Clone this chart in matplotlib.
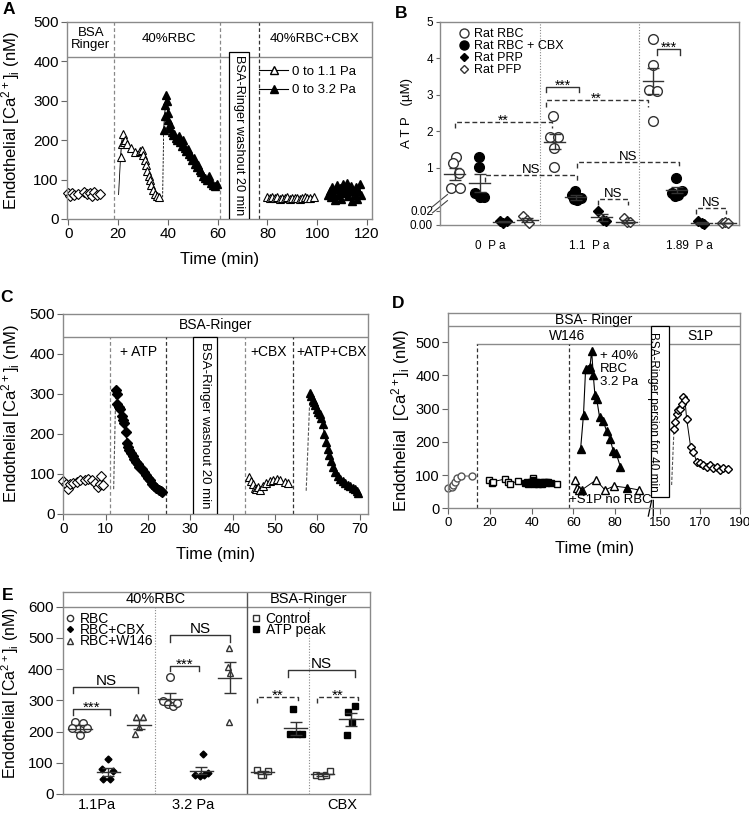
import numpy as np
import matplotlib
matplotlib.use('Agg')
import matplotlib.pyplot as plt
from matplotlib.lines import Line2D
from matplotlib.patches import Rectangle
import matplotlib.transforms as mtrans

plt.rcParams['font.family'] = ['Liberation Sans', 'DejaVu Sans']
plt.rcParams['mathtext.default'] = 'regular'

GREY = '#8a8a8a'
CA_LABEL = 'Endothelial [Ca$^{2+}$]$_i$ (nM)'

# ---------------- A: [Ca2+]i time course, 1.1 / 3.2 Pa
a_base_t = [-0.3, 0.6, 1.6, 2.4, 4.0, 6.2, 7.4, 8.6, 9.6, 10.4, 11.6, 12.8]
a_base_v = [65, 58, 66, 62, 64, 69, 63, 67, 58, 68, 62, 64]
# first point of each trace = start of the thin connector (no marker)
a_low_t = [20.2, 21.0, 21.4, 21.8, 22.3, 22.9, 23.6, 25.0, 26.8, 28.8, 29.6, 30.2, 30.8,
           31.3, 31.8, 32.3, 32.8, 33.4, 34.0, 34.7, 35.5, 36.5]
a_low_v = [62, 158, 190, 216, 196, 200, 190, 180, 170, 172, 175, 162, 150,
           138, 122, 110, 98, 86, 74, 64, 58, 55]
a_high_t = [37.9, 38.3, 38.7, 39.0, 39.3, 39.6, 39.9, 40.2, 40.6, 41.0, 41.5, 42.0, 42.6,
            43.2, 43.8, 44.4, 45.0, 45.6, 46.2, 46.8, 47.4, 48.0, 48.6, 49.2, 49.8, 50.4,
            51.0, 51.6, 52.2, 52.8, 53.4, 54.0, 54.8, 55.6, 56.4, 57.2, 58.0, 58.8, 59.6]
a_high_v = [55, 226, 262, 290, 315, 300, 270, 250, 232, 240, 220, 212, 215,
            205, 200, 210, 195, 185, 200, 180, 172, 178, 165, 160, 150, 155,
            140, 132, 138, 125, 118, 110, 105, 100, 108, 92, 86, 84, 90]
a_low_cbx_t = [80, 81, 82, 83, 84, 85, 86, 87, 88, 89, 90, 91, 92, 93, 94, 95, 96, 97, 98.5]
a_low_cbx_v = [56, 52, 57, 53, 55, 51, 54, 52, 56, 50, 53, 52, 54, 51, 53, 55, 52, 54, 57]
a_high_cbx_t = [104.5, 105, 105.5, 106, 106.5, 107, 107.5, 108, 108.5, 109, 109.5, 110,
                110.5, 111, 111.5, 112, 112.5, 113, 113.5, 114, 114.5, 115, 115.5, 116,
                116.5, 117, 117.5]
a_high_cbx_v = [60, 72, 55, 80, 65, 48, 75, 85, 62, 78, 50, 70, 88, 66, 80, 92, 58, 75,
                84, 45, 70, 60, 80, 50, 72, 88, 62]
a_legend = ['0 to 1.1 Pa', '0 to 3.2 Pa']
a_sections = ['BSA\nRinger', '40%RBC', '40%RBC+CBX']

# ---------------- B: ATP release
b_groups = ['0  P a', '1.1  P a', '1.89  P a']
b_series = ['Rat RBC', 'Rat RBC + CBX', 'Rat PRP', 'Rat PFP']
b_rbc_x = [0.63, 0.54, 0.78, 0.44, 0.80, 4.55, 4.42, 4.75, 4.59, 4.59, 8.54, 8.54, 8.37, 8.70, 8.54]
b_rbc_y = [1.29, 1.13, 0.88, 0.54, 0.54, 2.42, 1.86, 1.86, 1.54, 1.04, 4.53, 3.82, 3.15, 3.10, 2.30]
b_cbx_x = [1.57, 1.57, 1.41, 1.61, 1.77, 5.42, 5.29, 5.49, 5.65, 5.37, 9.48, 9.31, 9.57, 9.71, 9.44]
b_cbx_y = [1.31, 1.02, 0.42, 0.35, 0.35, 0.48, 0.38, 0.27, 0.31, 0.29, 0.78, 0.44, 0.38, 0.47, 0.36]
b_prp_x = [2.41, 2.54, 2.68, 6.36, 6.53, 6.67, 10.37, 10.51, 10.60]
b_prp_y = [0.005, 0.003, 0.005, 0.0204, 0.007, 0.006, 0.006, 0.0024, 0.0014]
b_pfp_x = [3.35, 3.48, 3.59, 7.39, 7.50, 7.63, 11.31, 11.45, 11.54]
b_pfp_y = [0.013, 0.007, 0.003, 0.0095, 0.0047, 0.0047, 0.003, 0.0047, 0.003]
b_mean_x = [[0.6, 4.6, 8.55], [1.6, 5.45, 9.5], [2.55, 6.5, 10.5], [3.5, 7.5, 11.45]]
b_mean = [[0.86, 1.72, 3.38], [0.66, 0.33, 0.50], [0.0045, 0.011, 0.003], [0.007, 0.0047, 0.003]]
b_sem = [[0.13, 0.21, 0.35], [0.20, 0.05, 0.07], [0.0005, 0.005, 0.001], [0.003, 0.002, 0.0005]]
# brackets: x1, x2, y, leg bottom, text, dashed
b_brackets = [(0.6, 4.48, 2.27, 2.09, '**', True),
              (4.24, 8.34, 2.86, 2.68, '**', True),
              (4.24, 5.6, 3.21, 3.07, '***', False),
              (8.7, 9.64, 4.26, 4.10, '***', False),
              (1.8, 5.49, 0.84, 0.69, 'NS', True),
              (5.49, 9.6, 1.17, 0.99, 'NS', True),
              (6.35, 7.55, 0.29, 0.157, 'NS', True),
              (10.28, 11.49, 0.08, 0.0157, 'NS', True)]
b_yticks = [0, 0.02, 1, 2, 3, 4, 5]
b_yticklabels = ['0.00', '0.02', '1', '2', '3', '4', '5']

# ---------------- C: ATP / CBX
c_base_t = [0, 0.7, 1.0, 1.6, 2.4, 3.2, 3.9, 5.1, 5.9, 6.7, 7.4, 8.2, 8.6, 9.0, 9.4]
c_base_v = [82, 75, 62, 75, 77, 80, 86, 86, 88, 84, 78, 68, 74, 94, 72]
c_atp_t = [11.9, 12.4, 12.6, 12.8, 13.1, 13.4, 13.8, 14.1, 14.4, 14.8, 15.0, 15.3, 15.6,
           16.0, 16.4, 16.8, 17.2, 17.6, 18.0, 18.5, 19.0, 19.5, 20.0, 20.5, 21.0, 21.5,
           22.0, 22.5, 23.0, 23.4]
c_atp_v = [62, 310, 300, 276, 268, 262, 245, 236, 228, 205, 178, 168, 160, 152, 145, 138,
           130, 124, 118, 112, 104, 97, 90, 84, 76, 70, 64, 60, 57, 56]
c_cbx_t = [44.0, 44.4, 44.8, 45.2, 45.6, 46.0, 46.4, 47.2, 48.0, 48.8, 49.6, 50.4, 51.2, 52.3, 53.1]
c_cbx_v = [92, 82, 74, 66, 62, 68, 60, 70, 78, 82, 86, 88, 84, 80, 78]
c_atpcbx_t = [57.4, 58.3, 58.6, 58.9, 59.2, 59.5, 59.9, 60.2, 60.6, 60.9, 61.3, 61.7, 62.1,
              62.5, 62.9, 63.3, 63.8, 64.3, 64.8, 65.4, 66.0, 66.6, 67.2, 67.8, 68.4,
              68.9, 69.3, 69.7]
c_atpcbx_v = [58, 302, 295, 285, 280, 272, 262, 256, 250, 240, 225, 200, 180, 162, 148,
              132, 118, 106, 96, 88, 82, 77, 73, 70, 66, 62, 57, 53]
c_sections = ['+ ATP', '+CBX', '+ATP+CBX']

# ---------------- D: W146 / S1P
d_base_t = [0, 1.6, 2.4, 3.2, 4.3, 5.9, 11.2]
d_base_v = [62, 64, 70, 80, 90, 97, 97]
d_sq_open_t = [19.7, 20.8, 21.4, 27.2, 28.5, 29.6, 33.6, 38.0, 40.8, 44.0, 47.0, 52.0]
d_sq_open_v = [86, 76, 80, 88, 80, 74, 82, 78, 92, 76, 78, 72]
d_sq_fill_t = [37, 38.5, 39.5, 40.5, 41, 42, 43, 44, 45, 46, 47, 48, 49.5]
d_sq_fill_v = [76, 74, 80, 84, 72, 78, 72, 79, 74, 78, 75, 79, 77]
d_rbc_t = [63.5, 64.9, 65.9, 67.0, 68.0, 68.8, 69.6, 70.4, 71.2, 72.6, 74.4, 76.0, 77.6, 79.2, 80.6, 82.6]
d_rbc_v = [178, 282, 418, 420, 425, 475, 400, 340, 330, 275, 262, 232, 210, 172, 165, 125]
d_norbc_t = [60.8, 61.6, 62.9, 64.0, 70.9, 75.2, 79.5, 85.6, 91.7]
d_norbc_v = [85, 62, 55, 55, 85, 55, 67, 62, 55]
d_norbc_fill_t = [64.2, 85.6]
d_norbc_fill_v = [52, 60]
d_s1p_t = [155.8, 157.0, 157.5, 158.3, 159.2, 160.0, 160.8, 161.7, 162.5, 163.3, 165.3, 166.7,
           168.3, 170.0, 171.7, 173.3, 175.0, 176.7, 178.3, 180.0, 181.7, 184.2]
d_s1p_v = [70, 240, 260, 285, 295, 300, 315, 335, 325, 270, 185, 170,
           140, 135, 130, 125, 130, 120, 125, 115, 120, 118]
d_xticks = [0, 20, 40, 60, 80, 150, 170, 190]

# ---------------- E: summary
e_xlabels = ['1.1Pa', '3.2 Pa', 'CBX']
e_xlabel_pos = [1.09, 4.23, 9.08]
e_rbc_x = [0.38, 0.65, 0.27, 0.78, 0.54, 3.48, 3.26, 3.43, 3.59, 3.72]
e_rbc_y = [229, 226, 210, 210, 189, 375, 298, 287, 282, 290]
e_cbx_x = [1.47, 1.25, 1.63, 1.31, 1.52, 4.54, 4.30, 4.45, 4.60, 4.72]
e_cbx_y = [113, 80, 75, 48, 47, 128, 62, 58, 60, 66]
e_w146_x = [2.37, 2.61, 2.48, 2.34, 5.41, 5.38, 5.44, 5.41]
e_w146_y = [246, 246, 214, 191, 469, 408, 387, 232]
e_ctrl_x = [6.30, 6.52, 6.68, 6.43, 8.25, 8.40, 8.55, 8.68]
e_ctrl_y = [77, 61, 75, 61, 61, 56, 61, 75]
e_peak_x = [7.50, 7.39, 7.61, 7.77, 9.51, 9.29, 9.40, 9.24]
e_peak_y = [271, 192, 192, 192, 282, 264, 229, 189]
e_mean_x = [0.54, 1.47, 2.47, 3.48, 4.50, 5.42, 6.50, 7.58, 8.45, 9.38]
e_mean = [209, 69, 222, 304, 75, 373, 69, 211, 63, 239]
e_sem = [12, 13, 14, 18, 12, 50, 5, 21, 4, 22]
e_brackets = [(0.33, 2.45, 342, 322, 'NS', False),
              (0.33, 1.52, 271, 253, '***', False),
              (3.48, 5.43, 509, 488, 'NS', False),
              (3.48, 4.43, 410, 394, '***', False),
              (6.30, 7.66, 310, 290, '**', True),
              (8.28, 9.62, 310, 290, '**', True),
              (7.34, 9.51, 397, 376, 'NS', False)]


def style_axes(ax, fs=11):
    for s in ax.spines.values():
        s.set_color(GREY)
        s.set_linewidth(1.0)
    ax.tick_params(direction='out', length=4, width=0.8, color='#666666',
                   labelsize=fs, pad=2)


def bracket(ax, x1, x2, y, y_leg, text, dashed, fs=11):
    ls = (0, (3.5, 2)) if dashed else '-'
    ax.plot([x1, x1, x2, x2], [y_leg, y, y, y_leg], color='#333333', lw=1.0, ls=ls)
    off = -2 if '*' in text else 1.5
    ax.annotate(text, ((x1 + x2) / 2, y), xytext=(0, off), textcoords='offset points',
                ha='center', va='baseline', fontsize=fs)


def vbox(ax, x0, x1, y0, y1, text, fs):
    ax.add_patch(Rectangle((x0, y0), x1 - x0, y1 - y0, fc='white', ec='black', lw=0.9, zorder=5))
    ax.text((x0 + x1) / 2, (y0 + y1) / 2, text, rotation=-90, ha='center', va='center',
            fontsize=fs, zorder=6)


def panel_a(fig):
    ax = fig.add_axes([0.0895, 0.7310, 0.4072, 0.2420])
    style_axes(ax)
    ax.set_xlim(-0.5, 122)
    ax.set_ylim(0, 500)
    ax.set_xticks(range(0, 121, 20))
    ax.set_yticks(range(0, 501, 100))
    ax.axhline(410, color=GREY, lw=1.0)
    for x, c in zip([18.3, 61.0, 76.6], ['#888888', '#888888', '#333333']):
        ax.axvline(x, color=c, ls=(0, (3, 2)), lw=0.9)
    vbox(ax, 64.7, 72.6, 0, 425, 'BSA-Ringer washout 20 min', 9.2)
    for x, s in zip([9.0, 40.5, 99.0], a_sections):
        ax.text(x, 457, s, ha='center', va='center', fontsize=9.5, linespacing=1.05)

    ax.plot(a_base_t, a_base_v, '-', color='k', lw=0.7, marker='D', ms=5.5, mfc='white',
            mec='k', mew=0.8, clip_on=False)
    ax.plot(a_low_t[:2], a_low_v[:2], '-', color='k', lw=0.6)
    ax.plot(a_low_t[1:], a_low_v[1:], '-', color='k', lw=0.7, marker='^', ms=6, mfc='white', mec='k', mew=0.8)
    ax.plot(a_high_t[:2], a_high_v[:2], color='k', lw=0.6, ls=(0, (3, 1.5)))
    ax.plot(a_high_t[1:], a_high_v[1:], '-', color='k', lw=0.7, marker='^', ms=6, mfc='k', mec='k')
    ax.plot(a_low_cbx_t, a_low_cbx_v, '-', color='k', lw=0.7, marker='^', ms=6, mfc='white', mec='k', mew=0.8)
    ax.plot(a_high_cbx_t, a_high_cbx_v, '-', color='k', lw=0.7, marker='^', ms=6, mfc='k', mec='k')

    handles = [Line2D([], [], color='k', lw=0.8, marker='^', ms=6, mfc='white', mec='k'),
               Line2D([], [], color='k', lw=0.8, marker='^', ms=6, mfc='k', mec='k')]
    ax.legend(handles, a_legend, loc='upper left', bbox_to_anchor=(0.63, 0.78), frameon=False,
              fontsize=9.5, handlelength=2.2, handletextpad=0.3, labelspacing=0.5,
              borderaxespad=0, borderpad=0)
    ax.set_ylabel(CA_LABEL, fontsize=12)
    ax.yaxis.set_label_coords(-0.148, 0.5)
    ax.set_xlabel('Time (min)', fontsize=12)
    ax.xaxis.set_label_coords(0.5, -0.17)


B_KY = [0, 0.02, 1, 5]
B_KP = [0, 14, 57, 203]


def b_fwd(y):
    return np.interp(np.asarray(y, dtype=float), B_KY, B_KP)


def b_inv(p):
    return np.interp(np.asarray(p, dtype=float), B_KP, B_KY)


def panel_b(fig):
    ax = fig.add_axes([0.5874, 0.7236, 0.3992, 0.2494])
    style_axes(ax, fs=8.5)
    ax.set_yscale('function', functions=(b_fwd, b_inv))
    ax.set_xlim(0, 12)
    ax.set_ylim(0, 5)
    ax.set_yticks(b_yticks)
    ax.set_yticklabels(b_yticklabels)
    ax.set_xticks([2, 6, 10])
    ax.set_xticklabels(b_groups)
    ax.tick_params(axis='x', length=0, pad=11)
    ax.tick_params(axis='y', length=3)
    for x in [4, 8]:
        ax.axvline(x, color='#888888', ls=(0, (1, 1.5)), lw=0.8)

    ax.plot(b_rbc_x, b_rbc_y, 'o', ms=7, mfc='white', mec='#333333', mew=1.0, ls='none', zorder=3)
    ax.plot(b_cbx_x, b_cbx_y, 'o', ms=7, mfc='k', mec='k', ls='none', zorder=3)
    ax.plot(b_prp_x, b_prp_y, 'D', ms=5.5, mfc='k', mec='k', ls='none', zorder=3, clip_on=False)
    ax.plot(b_pfp_x, b_pfp_y, 'D', ms=5.5, mfc='white', mec='#333333', ls='none', zorder=3, clip_on=False)
    for xs, ms_, ss in zip(b_mean_x, b_mean, b_sem):
        for x, m, s in zip(xs, ms_, ss):
            ax.plot([x - 0.42, x + 0.42], [m, m], color='#333333', lw=1.0, zorder=4)
            ax.errorbar(x, m, yerr=s, fmt='none', ecolor='#333333', elinewidth=1.0,
                        capsize=4, capthick=1.0, zorder=4)
    for x1, x2, y, yl, t, d in b_brackets:
        bracket(ax, x1, x2, y, yl, t, d, fs=10 if '*' in t else 9.5)

    handles = [Line2D([], [], ls='none', marker='o', ms=6.5, mfc='white', mec='#333333'),
               Line2D([], [], ls='none', marker='o', ms=6.5, mfc='k', mec='k'),
               Line2D([], [], ls='none', marker='D', ms=4.5, mfc='k', mec='k'),
               Line2D([], [], ls='none', marker='D', ms=4.5, mfc='white', mec='#333333')]
    ax.legend(handles, b_series, loc='upper left', bbox_to_anchor=(0.06, 0.97), frameon=False,
              fontsize=9, handlelength=1, handletextpad=0.3, labelspacing=0.0,
              borderaxespad=0, borderpad=0)
    # axis break marks
    for dy in [0.0, 0.03]:
        ax.plot([-0.025, 0.025], [0.06 + dy, 0.12 + dy], transform=ax.transAxes,
                color='#444444', lw=0.8, clip_on=False)
    ax.set_ylabel('A T P   (µM)', fontsize=9.5)
    ax.yaxis.set_label_coords(-0.09, 0.55)


def panel_c(fig):
    ax = fig.add_axes([0.0845, 0.3686, 0.4068, 0.2457])
    style_axes(ax)
    ax.set_xlim(0, 72)
    ax.set_ylim(0, 500)
    ax.set_xticks(range(0, 71, 10))
    ax.set_yticks(range(0, 501, 100))
    ax.axhline(443, color=GREY, lw=1.0)
    for x, c in zip([11.0, 24.2, 43.0, 54.2], ['#888888', '#333333', '#888888', '#333333']):
        ax.plot([x, x], [0, 443], color=c, ls=(0, (3, 2)), lw=0.9)
    vbox(ax, 30.7, 36.3, 0, 443, 'BSA-Ringer washout 20 min', 9.5)
    ax.text(0.5, 472, 'BSA-Ringer', transform=mtrans.blended_transform_factory(ax.transAxes, ax.transData),
            ha='center', va='center', fontsize=10)
    for x, s in zip([17.7, 48.5, 63.3], c_sections):
        ax.text(x, 406, s, ha='center', va='center', fontsize=10)

    ax.plot(c_base_t, c_base_v, '-', color='k', lw=0.7, marker='D', ms=5, mfc='white', mec='k',
            mew=0.8, clip_on=False)
    ax.plot(c_atp_t[:2], c_atp_v[:2], color='#555555', lw=0.8, ls=(0, (3, 1.5)))
    ax.plot(c_atp_t[1:], c_atp_v[1:], '-', color='k', lw=0.7, marker='D', ms=5, mfc='k', mec='k')
    ax.plot(c_cbx_t, c_cbx_v, '-', color='k', lw=0.7, marker='^', ms=5.5, mfc='white', mec='k', mew=0.8)
    ax.plot(c_atpcbx_t[:2], c_atpcbx_v[:2], color='#555555', lw=0.8, ls=(0, (3, 1.5)))
    ax.plot(c_atpcbx_t[1:], c_atpcbx_v[1:], '-', color='k', lw=0.7, marker='^', ms=6, mfc='k', mec='k')
    ax.set_ylabel(CA_LABEL, fontsize=12)
    ax.yaxis.set_label_coords(-0.136, 0.5)
    ax.set_xlabel('Time (min)', fontsize=12)
    ax.xaxis.set_label_coords(0.5, -0.165)


D_KT = [0, 98.4, 146.65, 190]
D_KP = [0, 205, 205.01, 291.7]


def d_fwd(t):
    return np.interp(np.asarray(t, dtype=float), D_KT, D_KP)


def d_inv(p):
    return np.interp(np.asarray(p, dtype=float), D_KP, D_KT)


def panel_d(fig):
    ax = fig.add_axes([0.5985, 0.3756, 0.3895, 0.2403])
    style_axes(ax, fs=9.5)
    ax.set_xscale('function', functions=(d_fwd, d_inv))
    ax.set_xlim(0, 190)
    ax.set_ylim(0, 589)
    ax.set_xticks(d_xticks)
    ax.set_yticks(range(0, 501, 100))
    ax.tick_params(axis='y', labelsize=10.5)
    ax.axhline(549, color=GREY, lw=1.0)
    ax.plot([13.9, 190], [494, 494], color=GREY, lw=1.0)
    for x in [13.9, 57.9]:
        ax.plot([x, x], [0, 494], color='#333333', ls=(0, (3, 2)), lw=0.9)
    vbox(ax, 97.1, 154.7, 33, 549, 'BSA-Ringer persion for 40 min', 8.5)
    ax.text(0.5, 568, 'BSA- Ringer', transform=mtrans.blended_transform_factory(ax.transAxes, ax.transData),
            ha='center', va='center', fontsize=10)
    ax.text(56.8, 520, 'W146', ha='center', va='center', fontsize=10)
    ax.text(170, 520, 'S1P', ha='center', va='center', fontsize=10)
    ax.text(72.6, 478, '+ 40%\nRBC\n3.2 Pa', ha='left', va='top', fontsize=9.5, linespacing=1.15)
    ax.text(78, 24, '+S1P no RBC', ha='center', va='center', fontsize=9.5)

    ax.plot(d_base_t, d_base_v, '-', color='#555555', lw=0.7, marker='o', ms=5, mfc='white',
            mec='#555555', clip_on=False)
    ax.plot(d_sq_open_t, d_sq_open_v, '-', color='k', lw=0.7, marker='s', ms=5, mfc='white', mec='k')
    ax.plot(d_sq_fill_t, d_sq_fill_v, '-', color='k', lw=0.7, marker='s', ms=5, mfc='k', mec='k')
    ax.plot(d_rbc_t, d_rbc_v, '-', color='k', lw=0.8, marker='^', ms=5.5, mfc='k', mec='k')
    ax.plot(d_norbc_t, d_norbc_v, '-', color='k', lw=0.7, marker='^', ms=5.5, mfc='white', mec='k')
    ax.plot(d_norbc_fill_t, d_norbc_fill_v, ls='none', marker='^', ms=5, mfc='k', mec='k')
    ax.plot(d_s1p_t[:2], d_s1p_v[:2], color='#555555', lw=0.8, ls=(0, (3, 1.5)))
    ax.plot(d_s1p_t[1:], d_s1p_v[1:], '-', color='k', lw=0.7, marker='D', ms=4.5, mfc='white', mec='k')

    trans = mtrans.blended_transform_factory(ax.transData, ax.transAxes)
    for x0 in [96.0, 99.0]:
        ax.plot([x0, x0 + 1.6], [-0.04, 0.04], transform=trans, color='k', lw=0.9, clip_on=False)
    ax.set_ylabel('Endothelial  [Ca$^{2+}$]$_i$ (nM)', fontsize=12)
    ax.yaxis.set_label_coords(-0.125, 0.45)
    ax.set_xlabel('Time (min)', fontsize=12)
    ax.xaxis.set_label_coords(0.5, -0.165)


def panel_e(fig):
    ax = fig.add_axes([0.0845, 0.0246, 0.4095, 0.2485])
    style_axes(ax)
    ax.set_xlim(0, 10)
    ax.set_ylim(0, 648)
    ax.set_yticks(range(0, 601, 100))
    ax.set_xticks(e_xlabel_pos)
    ax.set_xticklabels(e_xlabels)
    ax.tick_params(axis='x', length=0, pad=3, labelsize=10.5)
    ax.tick_params(axis='y', length=5)
    ax.axhline(600, color=GREY, lw=1.0)
    ax.axvline(6, color='#555555', lw=1.0)
    for x in [3, 8]:
        ax.plot([x, x], [0, 600], color='#888888', ls=(0, (1, 1.5)), lw=0.8)
    ax.text(3, 624, '40%RBC', ha='center', va='center', fontsize=10.5)
    ax.text(8, 624, 'BSA-Ringer', ha='center', va='center', fontsize=10.5)

    ax.plot(e_rbc_x, e_rbc_y, 'o', ms=5.5, mfc='white', mec='#333333', ls='none')
    ax.plot(e_cbx_x, e_cbx_y, 'D', ms=3.5, mfc='k', mec='k', ls='none')
    ax.plot(e_w146_x, e_w146_y, '^', ms=5, mfc='white', mec='#333333', ls='none')
    ax.plot(e_ctrl_x, e_ctrl_y, 's', ms=5, mfc='white', mec='#333333', ls='none')
    ax.plot(e_peak_x, e_peak_y, 's', ms=5, mfc='k', mec='k', ls='none')
    for x, m, s in zip(e_mean_x, e_mean, e_sem):
        ax.plot([x - 0.38, x + 0.38], [m, m], color='#333333', lw=1.0)
        ax.errorbar(x, m, yerr=s, fmt='none', ecolor='#333333', elinewidth=1.0, capsize=4, capthick=1.0)
    for x1, x2, y, yl, t, d in e_brackets:
        bracket(ax, x1, x2, y, yl, t, d, fs=11)

    h1 = [Line2D([], [], ls='none', marker='o', ms=4.5, mfc='white', mec='#333333'),
          Line2D([], [], ls='none', marker='D', ms=3, mfc='k', mec='k'),
          Line2D([], [], ls='none', marker='^', ms=4.5, mfc='white', mec='#333333')]
    leg1 = ax.legend(h1, ['RBC', 'RBC+CBX', 'RBC+W146'], loc='upper left', bbox_to_anchor=(0.005, 0.90),
                     frameon=False, fontsize=10, handlelength=0.8, handletextpad=0.3,
                     labelspacing=-0.2, borderaxespad=0, borderpad=0)
    ax.add_artist(leg1)
    h2 = [Line2D([], [], ls='none', marker='s', ms=4.5, mfc='white', mec='#333333'),
          Line2D([], [], ls='none', marker='s', ms=4.5, mfc='k', mec='k')]
    ax.legend(h2, ['Control', 'ATP peak'], loc='upper left', bbox_to_anchor=(0.61, 0.90),
              frameon=False, fontsize=10, handlelength=0.8, handletextpad=0.3,
              labelspacing=-0.2, borderaxespad=0, borderpad=0)
    ax.set_ylabel('Endothelial [Ca$^{2+}$]$_i$ (nM)', fontsize=11.5)
    ax.yaxis.set_label_coords(-0.138, 0.5)


def main():
    fig = plt.figure(figsize=(7.49, 8.14), dpi=100)
    panel_a(fig)
    panel_b(fig)
    panel_c(fig)
    panel_d(fig)
    panel_e(fig)
    for s, x, y in [('A', 9, 10), ('B', 401, 14), ('C', 7, 298), ('D', 398, 304), ('E', 8, 596)]:
        fig.text(x / 749, 1 - y / 814, s, fontsize=12.5, fontweight='bold', ha='center', va='center')
    fig.savefig('out.png', dpi=100)


if __name__ == '__main__':
    main()
